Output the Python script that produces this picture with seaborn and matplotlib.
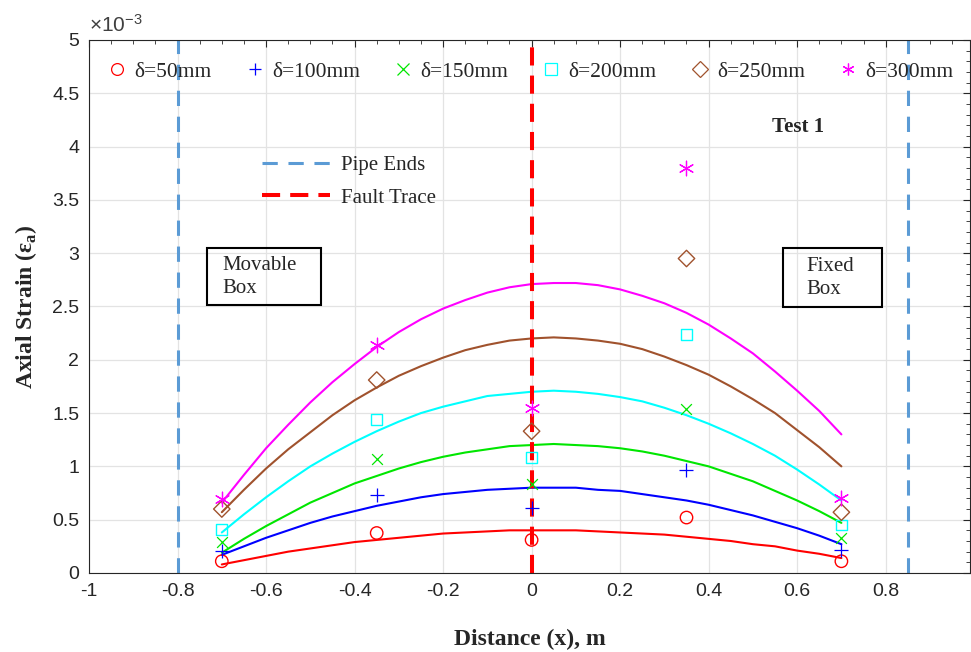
import matplotlib
matplotlib.use("Agg")
import matplotlib.pyplot as plt
from matplotlib.lines import Line2D
from matplotlib.patches import Rectangle
from matplotlib.ticker import MultipleLocator, FuncFormatter
import pandas as pd
import seaborn as sns

# measured points (axial strain, x1e-3)
x_pts = [-0.7, -0.35, 0.0, 0.35, 0.7]
d50 = [0.11, 0.375, 0.31, 0.52, 0.11]
d100 = [0.21, 0.73, 0.61, 0.97, 0.22]
d150 = [0.29, 1.07, 0.83, 1.54, 0.33]
d200 = [0.41, 1.44, 1.08, 2.24, 0.45]
d250 = [0.60, 1.81, 1.33, 2.95, 0.57]
d300 = [0.69, 2.14, 1.55, 3.80, 0.70]

# trend curves
x_fit = [-0.7, -0.65, -0.6, -0.55, -0.5, -0.45, -0.4, -0.35, -0.3, -0.25, -0.2, -0.15, -0.1, -0.05,
         0.0, 0.05, 0.1, 0.15, 0.2, 0.25, 0.3, 0.35, 0.4, 0.45, 0.5, 0.55, 0.6, 0.65, 0.7]
fit50 = [0.08, 0.12, 0.16, 0.20, 0.23, 0.26, 0.29, 0.31, 0.33, 0.35, 0.37, 0.38, 0.39, 0.40,
         0.40, 0.40, 0.40, 0.39, 0.38, 0.37, 0.36, 0.34, 0.32, 0.30, 0.27, 0.25, 0.21, 0.18, 0.14]
fit100 = [0.17, 0.25, 0.33, 0.40, 0.47, 0.53, 0.58, 0.63, 0.67, 0.71, 0.74, 0.76, 0.78, 0.79,
          0.80, 0.80, 0.80, 0.78, 0.77, 0.74, 0.71, 0.68, 0.64, 0.59, 0.54, 0.48, 0.42, 0.35, 0.27]
fit150 = [0.19, 0.32, 0.44, 0.55, 0.66, 0.75, 0.84, 0.91, 0.98, 1.04, 1.09, 1.13, 1.16, 1.19,
          1.20, 1.21, 1.20, 1.19, 1.17, 1.14, 1.10, 1.05, 1.00, 0.93, 0.86, 0.77, 0.68, 0.58, 0.47]
fit200 = [0.38, 0.55, 0.71, 0.86, 1.00, 1.12, 1.23, 1.33, 1.42, 1.50, 1.56, 1.61, 1.66, 1.68,
          1.70, 1.71, 1.70, 1.68, 1.65, 1.61, 1.55, 1.48, 1.40, 1.31, 1.21, 1.10, 0.97, 0.83, 0.68]
fit250 = [0.57, 0.78, 0.98, 1.16, 1.32, 1.48, 1.62, 1.74, 1.85, 1.94, 2.02, 2.09, 2.14, 2.18,
          2.20, 2.21, 2.20, 2.18, 2.15, 2.10, 2.03, 1.95, 1.86, 1.75, 1.63, 1.50, 1.34, 1.18, 1.00]
fit300 = [0.66, 0.92, 1.17, 1.39, 1.60, 1.79, 1.96, 2.12, 2.26, 2.38, 2.48, 2.56, 2.63, 2.68,
          2.71, 2.72, 2.72, 2.70, 2.66, 2.60, 2.53, 2.44, 2.33, 2.20, 2.06, 1.89, 1.71, 1.52, 1.30]

labels = ["δ=50mm", "δ=100mm", "δ=150mm", "δ=200mm", "δ=250mm", "δ=300mm"]
colors = ["#ff0000", "#0000ff", "#00e600", "#00ffff", "#a0522d", "#ff00ff"]
markers = ["o", "+", "x", "s", "D", (6, 2, 0)]
hollow = [True, False, False, True, True, False]
msizes = [80, 110, 60, 60, 70, 110]

pipe_ends = [-0.8, 0.85]
fault = 0.0

pts = pd.DataFrame({
    "x": x_pts * 6,
    "strain": d50 + d100 + d150 + d200 + d250 + d300,
    "case": [l for l in labels for _ in x_pts],
})
curves = pd.DataFrame({
    "x": x_fit * 6,
    "strain": fit50 + fit100 + fit150 + fit200 + fit250 + fit300,
    "case": [l for l in labels for _ in x_fit],
})

sns.set_style("white")
plt.rcParams["font.family"] = ["Liberation Sans", "DejaVu Sans"]
plt.rcParams["axes.unicode_minus"] = False
plt.rcParams["mathtext.fontset"] = "custom"
plt.rcParams["mathtext.rm"] = "Liberation Serif"
plt.rcParams["mathtext.bf"] = "Liberation Serif:bold"
plt.rcParams["mathtext.sf"] = "Liberation Sans"
serif = ["Liberation Serif", "DejaVu Serif"]

fig = plt.figure(figsize=(9.71, 6.52), dpi=100)
ax = fig.add_axes([0.0917, 0.1212, 0.907, 0.8175])

sns.lineplot(data=curves, x="x", y="strain", hue="case", palette=dict(zip(labels, colors)),
             legend=False, lw=1.5, ax=ax)

for lab, c, m, h, s in zip(labels, colors, markers, hollow, msizes):
    sub = pts[pts["case"] == lab]
    if h:
        sns.scatterplot(data=sub, x="x", y="strain", marker=m, s=s, facecolor="none",
                        edgecolor=c, linewidth=1.0, ax=ax, zorder=3)
    else:
        sns.scatterplot(data=sub, x="x", y="strain", marker=m, s=s, color=c,
                        linewidth=0.9, ax=ax, zorder=3)

for xp in pipe_ends:
    ax.axvline(xp, color="#5b9bd5", lw=2.2, ls=(0, (5, 3.5)), zorder=2)
ax.axvline(fault, color="#ff0000", lw=2.9, ls=(0, (4.5, 2.5)), zorder=2)

ax.set_xlim(-1, 0.99)
ax.set_ylim(0, 5)
ax.xaxis.set_major_locator(MultipleLocator(0.2))
ax.xaxis.set_minor_locator(MultipleLocator(0.05))
ax.yaxis.set_major_locator(MultipleLocator(0.5))
ax.yaxis.set_minor_locator(MultipleLocator(0.1))
fmt = FuncFormatter(lambda v, p: "%g" % round(v, 6))
ax.xaxis.set_major_formatter(fmt)
ax.yaxis.set_major_formatter(fmt)
ax.tick_params(which="both", direction="in", top=True, right=True, colors="#262626",
               labelsize=14)
ax.tick_params(which="major", length=5, width=0.8, pad=7)
ax.tick_params(which="minor", length=3, width=0.6)
ax.grid(True, which="major", color="#e3e3e3", lw=0.9)
ax.set_axisbelow(True)
for sp in ax.spines.values():
    sp.set_color("#262626")
    sp.set_linewidth(0.8)

ax.set_xlabel("Distance (x), m", fontsize=17, fontweight="bold", family=serif)
ax.set_ylabel(r"Axial Strain (ε${}_\mathbf{a}$)", fontsize=17, fontweight="bold", family=serif)
ax.xaxis.set_label_coords(0.5, -0.105)
ax.yaxis.set_label_coords(-0.057, 0.5)

ax.text(0.0, 1.008, r"$\mathsf{\times10^{-3}}$", transform=ax.transAxes, fontsize=15,
        color="#404040", ha="left", va="bottom")

# delta legend across the top
hs = []
for lab, c, m, h in zip(labels, colors, markers, hollow):
    hs.append(Line2D([], [], ls="none", marker=m, markersize=8.5,
                     markerfacecolor="none" if h else c, markeredgecolor=c,
                     markeredgewidth=0.9, label=lab))
leg1 = ax.legend(handles=hs, ncol=6, loc="center left", bbox_to_anchor=(0.02, 0.94),
                 frameon=False, handlelength=1.0, handletextpad=0.3, columnspacing=1.5,
                 borderpad=0, borderaxespad=0, prop={"family": serif, "size": 15.5})
ax.add_artist(leg1)

lh = [Line2D([], [], color="#5b9bd5", lw=2.2, ls=(0, (5, 3.5)), label="Pipe Ends"),
      Line2D([], [], color="#ff0000", lw=2.9, ls=(0, (4.5, 2.5)), label="Fault Trace")]
ax.legend(handles=lh, loc="center left", bbox_to_anchor=(0.196, 0.734), frameon=False,
          handlelength=3.3, handletextpad=0.5, labelspacing=0.6, borderpad=0,
          borderaxespad=0, prop={"family": serif, "size": 15})

# box annotations
ax.add_patch(Rectangle((0.134, 0.503), 0.129, 0.107, transform=ax.transAxes,
                       fill=False, ec="black", lw=1.5, zorder=4))
ax.text(0.151, 0.556, "Movable\nBox", transform=ax.transAxes, fontsize=15, family=serif,
        va="center", ha="left", linespacing=1.3)
ax.add_patch(Rectangle((0.788, 0.499), 0.112, 0.111, transform=ax.transAxes,
                       fill=False, ec="black", lw=1.5, zorder=4))
ax.text(0.814, 0.554, "Fixed\nBox", transform=ax.transAxes, fontsize=15, family=serif,
        va="center", ha="left", linespacing=1.3)
ax.text(0.805, 0.837, "Test 1", transform=ax.transAxes, fontsize=15, family=serif,
        fontweight="bold", ha="center", va="center")

fig.savefig("out.png", dpi=100)
